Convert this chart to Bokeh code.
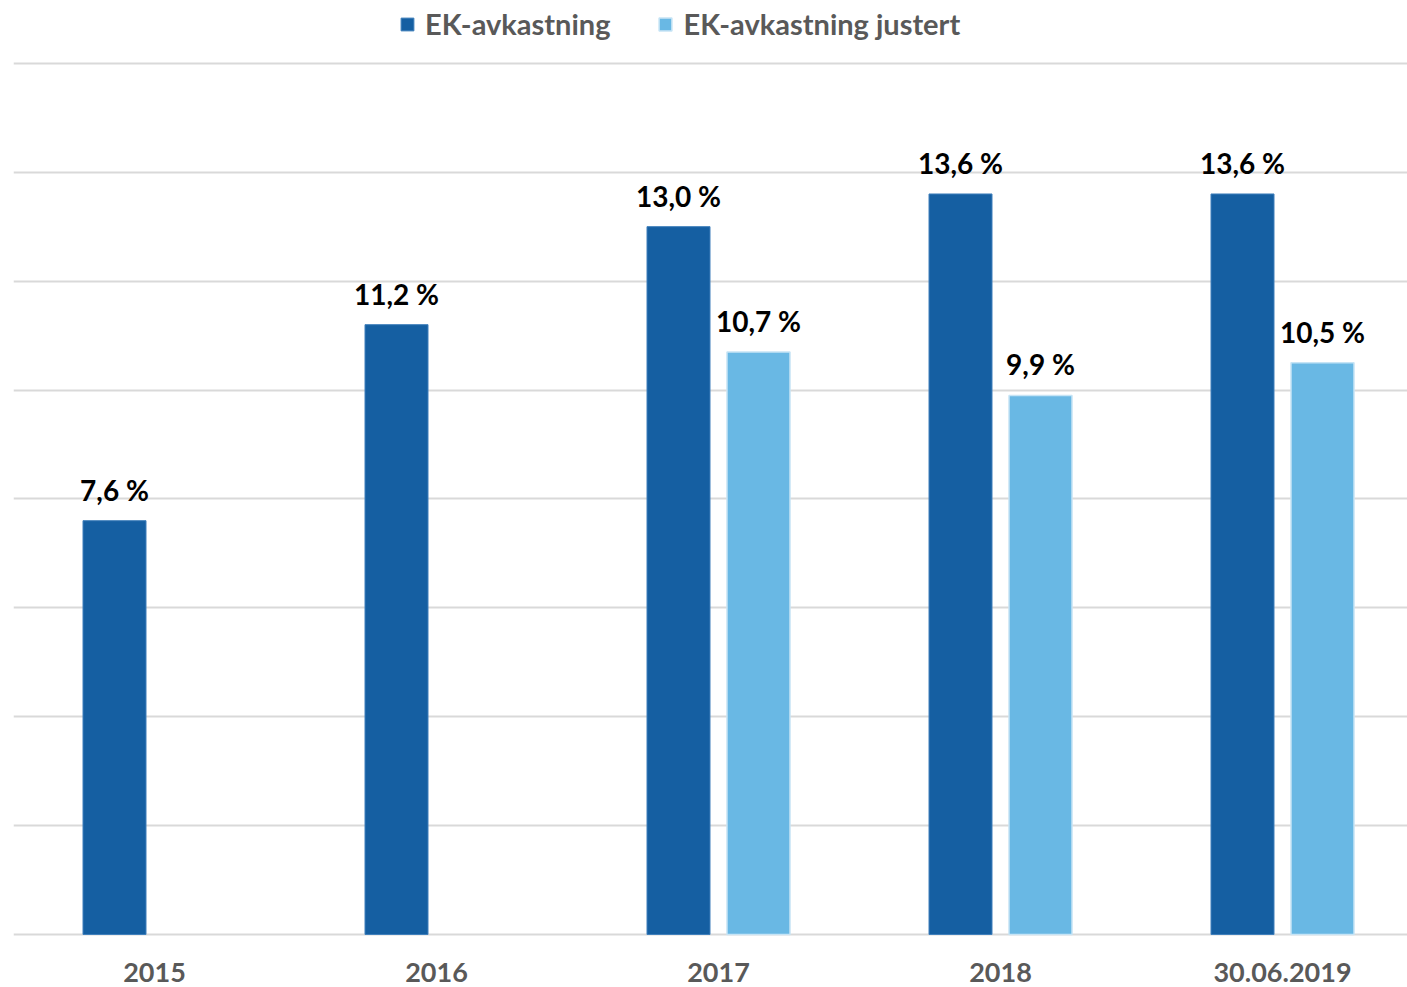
from bokeh.plotting import figure
from bokeh.models import ColumnDataSource, Legend, LegendItem, FixedTicker, Range1d
from bokeh.core.properties import value
from bokeh.embed import file_html
from bokeh.resources import INLINE

categories = ["2015", "2016", "2017", "2018", "30.06.2019"]
ek_avkastning = [7.6, 11.2, 13.0, 13.6, 13.6]
ek_justert_cats = ["2017", "2018", "30.06.2019"]
ek_justert = [10.7, 9.9, 10.5]
y_ticks = [0, 2, 4, 6, 8, 10, 12, 14, 16]

FONT = "Lato"
DARK = "#155FA2"
LIGHT = "#69B8E4"

def fmt(v):
    return f"{v:.1f}".replace(".", ",") + " %"

idx = {c: i for i, c in enumerate(categories)}
off = 40 / 282
bw = 63 / 282

src1 = ColumnDataSource(dict(
    x=[idx[c] - off for c in categories],
    top=ek_avkastning,
    label=[fmt(v) for v in ek_avkastning],
))
src2 = ColumnDataSource(dict(
    x=[idx[c] + off for c in ek_justert_cats],
    top=ek_justert,
    label=[fmt(v) for v in ek_justert],
))
src_cat = ColumnDataSource(dict(
    x=[idx[c] for c in categories],
    y=[0] * len(categories),
    label=categories,
))

W, H = 1407, 987
LEFT = 13
PX = 54.45          # pixels per percentage point
ZERO = 934          # pixel row of the zero line
frame_w = W - LEFT
p = figure(width=W, height=H, output_backend="svg", toolbar_location=None,
           x_range=Range1d(-0.5, -0.5 + frame_w / 282),
           y_range=Range1d(-(H - ZERO) / PX, ZERO / PX),
           min_border_left=LEFT, min_border_right=0, min_border_top=0, min_border_bottom=0)
p.outline_line_color = None
p.background_fill_color = "white"

r1 = p.vbar(x="x", top="top", bottom=0, width=bw, source=src1, fill_color=DARK, line_color="#3f7fbb", line_width=1)
r2 = p.vbar(x="x", top="top", bottom=0, width=bw, source=src2, fill_color=LIGHT, line_color="#c6e4f5", line_width=1.5)

for s in (src1, src2):
    p.text(x="x", y="top", text="label", source=s, text_align="center", text_baseline="alphabetic",
           y_offset=-31, text_font=value(FONT), text_font_style="bold", text_font_size="28px",
           text_color="black")

p.text(x="x", y="y", text="label", source=src_cat, text_align="center", text_baseline="alphabetic",
       y_offset=38, text_font=value(FONT), text_font_style="bold", text_font_size="27px",
       text_color="#595959")

p.xaxis.visible = False
p.yaxis.visible = False
p.ygrid.ticker = FixedTicker(ticks=y_ticks)
p.ygrid.grid_line_color = "#d9d9d9"
p.ygrid.grid_line_width = 2
p.ygrid.level = "underlay"
p.xgrid.visible = False

legend = Legend(items=[LegendItem(label="EK-avkastning", renderers=[r1]),
                       LegendItem(label="EK-avkastning justert", renderers=[r2])],
                location=(386, H - 41), orientation="horizontal",
                glyph_width=16, glyph_height=16, label_standoff=10, spacing=47,
                padding=0, margin=0, border_line_color=None, background_fill_alpha=0,
                label_text_font=FONT, label_text_font_style="bold", label_text_font_size="29px",
                label_text_color="#595959")
p.add_layout(legend, "center")

open("out.html", "w").write(file_html(p, INLINE))
